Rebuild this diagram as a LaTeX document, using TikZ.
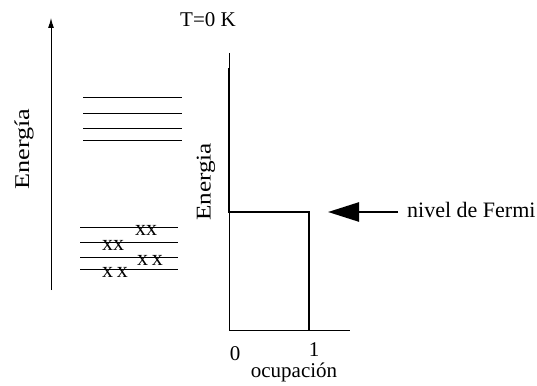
\documentclass[tikz,border=0pt]{standalone}
\usepackage{fontspec}
\setmainfont{Liberation Serif}
\usetikzlibrary{arrows.meta}
\begin{document}
\begin{tikzpicture}[x=1pt,y=-1pt,
  lbl/.style={inner sep=0pt, font=\fontsize{21}{25}\selectfont},
  xmark/.style={inner sep=0pt, anchor=base, font=\fontsize{22}{25}\selectfont},
  levelline/.style={line width=1pt},
  axisline/.style={line width=1pt},
  stepline/.style={line width=2.5pt, line join=miter}]
\useasboundingbox (0,0) rectangle (537,385);
% left energy axis
\coordinate (eb) at (51,290);
\coordinate (et) at (51,18);
\draw[axisline,-{Latex[length=10pt,width=6pt]}] (eb) -- (et);
\node[lbl,rotate=90] (elabel) at (24,149) {\scalebox{1.25}[1]{Energía}};
% upper empty levels
\foreach \y in {98,113,128,140} \draw[levelline] (83,\y) -- (182,\y);
% lower filled levels
\foreach \y in {227,242,257,269} \draw[levelline] (80,\y) -- (178,\y);
\node[xmark] (x1) at (146,235) {xx};
\node[xmark] (x2) at (113,250) {xx};
\node[xmark] (x3) at (150,265) {x\,x};
\node[xmark] (x4) at (115,277) {x\,x};
% title
\node[lbl,anchor=base west] (title) at (180,27) {T=0 K};
% occupation graph
\coordinate (o) at (229,330);
\coordinate (ytop) at (229,53);
\coordinate (xend) at (350,330);
\draw[axisline] (ytop) -- (o) -- (xend);
\coordinate (s1) at (229,68);
\coordinate (s2) at (229,212);
\coordinate (s3) at (309,212);
\coordinate (s4) at (309,330);
\draw[stepline] (s1) -- (s2) -- (s3) -- (s4);
\node[lbl,rotate=90] (elabel2) at (206,182) {\scalebox{1.2}[1]{Energia}};
\node[lbl,anchor=base] (zero) at (235,360) {0};
\node[lbl,anchor=base] (one) at (314,356) {1};
\node[lbl,anchor=base] (ocup) at (294,377) {ocupación};
% Fermi level
\node[lbl,anchor=base west,font=\fontsize{22}{26}\selectfont] (fermi) at (407,217) {nivel de Fermi};
\coordinate (ftail) at (398,212);
\coordinate (fhead) at (328,212);
\draw[line width=2.5pt,-{Triangle[length=31pt,width=19pt]}] (ftail) -- (fhead);
\end{tikzpicture}
\end{document}
